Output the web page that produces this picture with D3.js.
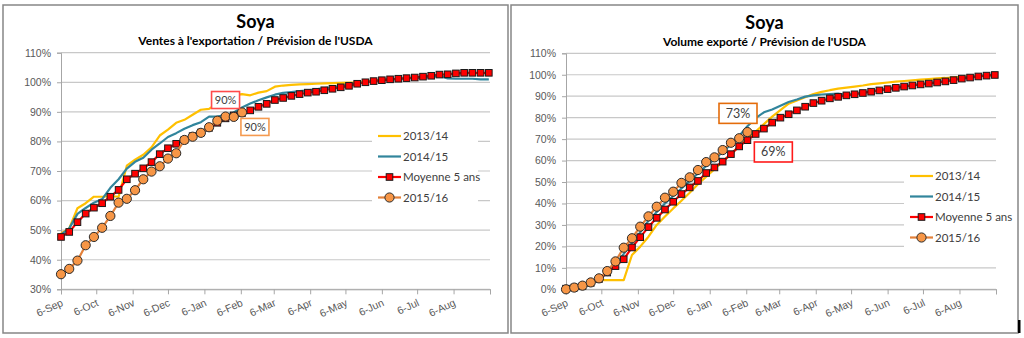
<!DOCTYPE html>
<html>
<head>
<meta charset="utf-8">
<script src="https://cdn.jsdelivr.net/npm/d3@7"></script>
<style>
  body { margin: 0; background: #fff; }
  svg { display: block; font-family: Lato, "Open Sans", sans-serif; }
</style>
</head>
<body>
<svg id="chart" width="1024" height="338"></svg>
<script>
// weekly points, 6-Sep start
var startDate = new Date(2014, 8, 6);
var endDate = new Date(2015, 8, 6);
var tickLabels = ["6-Sep","6-Oct","6-Nov","6-Dec","6-Jan","6-Feb","6-Mar","6-Apr","6-May","6-Jun","6-Jul","6-Aug"];
var seriesNames = ["2013/14", "2014/15", "Moyenne 5 ans", "2015/16"];

// left: Ventes à l'exportation (%)
var ventes1314 = [48.9,50.6,57.4,59.1,61.3,61.3,61.5,61.3,71.8,73.8,75.5,78.0,82.0,84.0,86.3,87.3,89.0,90.7,91.0,92.9,94.0,95.5,96.0,95.6,96.5,97.0,98.5,98.9,99.1,99.3,99.4,99.5,99.6,99.7,99.8,99.9,100.0,100.3,100.6,100.8,101.0,101.2,101.4,101.6,101.9,102.2,102.6,102.7,102.9,103.1,103.1,103.1,103.1];
var ventes1415 = [48.5,50.6,55.5,57.5,59.3,60.5,64.3,67.2,70.8,73.1,74.5,77.2,79.3,81.5,82.8,84.3,85.5,86.5,88.4,88.4,89.0,89.8,91.5,92.8,93.9,94.9,95.8,96.4,96.7,97.0,97.3,97.6,98.0,98.3,98.7,99.2,99.6,100.0,100.4,100.7,100.9,101.1,101.3,101.5,101.6,101.8,102.1,101.3,101.2,101.2,101.2,101.0,101.0];
var ventesMoy = [47.7,49.4,52.7,55.6,57.6,59.1,61.3,63.6,67.2,69.1,70.9,73.0,75.7,77.7,79.2,80.5,81.8,83.0,84.6,86.3,87.8,88.8,89.6,90.5,91.7,92.7,94.0,94.7,95.4,96.0,96.5,96.8,97.3,97.8,98.3,98.8,99.5,100.0,100.4,100.7,101.0,101.2,101.4,101.6,101.9,102.2,102.6,102.7,103.0,103.2,103.2,103.2,103.2];
var ventes1516 = [35.1,36.9,39.7,44.9,47.7,50.8,54.8,59.3,60.6,63.5,67.2,69.8,71.6,74.2,76.0,80.5,81.6,82.9,84.8,87.0,88.4,88.3,89.8];

// right: Volume exporté (%)
var volume1314 = [0.0,0.7,1.5,3.0,4.3,4.3,4.3,4.3,16.0,19.9,24.5,30.0,33.9,37.7,41.3,45.0,49.0,52.5,56.0,59.5,63.0,66.8,70.0,73.5,77.0,80.5,83.5,86.5,88.0,89.5,91.0,92.0,92.8,93.5,94.0,94.5,95.0,95.6,96.0,96.4,96.8,97.1,97.4,97.7,98.0,98.3,98.5,98.8,99.0,99.2,99.4,99.6,99.8];
var volume1415 = [0.0,0.5,1.2,2.8,4.8,7.5,11.5,16.5,21.5,26.5,32.0,36.0,40.0,43.5,47.0,50.5,54.0,57.5,60.5,64.0,67.5,71.5,76.0,79.8,82.5,83.8,85.5,87.3,88.5,89.8,90.4,90.8,91.0,91.2,90.6,91.1,91.7,92.3,92.9,93.5,94.1,94.7,95.2,95.7,96.1,96.6,97.1,97.7,98.4,98.9,99.4,99.8,100.1];
var volumeMoy = [0.3,0.8,1.5,3.0,4.8,7.8,10.8,14.0,19.5,24.3,29.0,33.3,37.2,40.8,44.4,47.5,50.5,54.2,56.8,59.5,63.0,66.6,69.5,72.4,74.9,77.7,80.0,81.6,83.4,85.1,86.8,87.9,89.0,89.7,90.4,90.9,91.5,92.1,92.7,93.3,93.9,94.5,95.0,95.5,95.9,96.4,96.9,97.5,98.2,98.7,99.2,99.6,99.9];
var volume1516 = [0.0,0.8,1.7,3.2,5.1,8.5,13.0,19.4,23.8,29.2,34.0,38.5,42.7,45.5,49.6,52.2,55.6,59.3,61.5,64.9,68.3,70.4,73.3];

// callout boxes: week index and level (%) of box centre
var ventesNotes = [{text: "90%", week: 20, level: 94, color: "#ff4b4b"}, {text: "90%", week: 23.6, level: 84.9, color: "#f59a4f"}];
var volumeNotes = [{text: "73%", week: 20.9, level: 82, color: "#e46c0a"}, {text: "69%", week: 25.2, level: 64, color: "#ff1a1a"}];

var colors = ["#ffc000", "#31859c", "#ff0000", "#e3813a"];

var svg = d3.select("#chart");
var weeks = ventesMoy.map((d, i) => d3.timeDay.offset(startDate, 7 * i));

function drawPanel(cfg) {
	var g = svg.append("g");
	g.append("rect")
		.attr("x", cfg.frame[0]).attr("y", cfg.frame[1])
		.attr("width", cfg.frame[2]).attr("height", cfg.frame[3])
		.attr("fill", "#fff").attr("stroke", "#868686").attr("stroke-width", 1.5);

	var x = d3.scaleTime().domain([startDate, endDate]).range([cfg.left, cfg.right]);
	var y = d3.scaleLinear().domain(cfg.yDomain).range([cfg.bottom, cfg.top]);
	var yTicks = d3.range(cfg.yDomain[0], cfg.yDomain[1] + 0.1, 10);

	// gridlines
	g.selectAll("line.grid").data(yTicks).enter().append("line")
		.attr("x1", cfg.left).attr("x2", cfg.right)
		.attr("y1", d => y(d)).attr("y2", d => y(d))
		.attr("stroke", "#c8c8c8").attr("stroke-width", 1.2);

	// y axis
	var yAxis = g.append("g")
		.attr("transform", "translate(" + cfg.left + ",0)")
		.call(d3.axisLeft(y).tickValues(yTicks).tickSize(4).tickPadding(6).tickFormat(d => d + "%"));
	yAxis.select(".domain").attr("stroke", "#a6a6a6");
	yAxis.selectAll(".tick line").attr("stroke", "#a6a6a6");
	yAxis.selectAll("text").attr("fill", "#595959").style("font-size", "10.5px");

	// x axis: the 6th of every month
	var monthTicks = d3.timeMonth.range(d3.timeMonth.floor(startDate), endDate)
		.map(d => d3.timeDay.offset(d, 5))
		.slice(0, tickLabels.length);
	var xAxis = g.append("g")
		.attr("transform", "translate(0," + cfg.bottom + ")")
		.call(d3.axisBottom(x).tickValues(monthTicks.concat([endDate])).tickSize(5)
			.tickFormat((d, i) => tickLabels[i] || ""));
	xAxis.select(".domain").attr("stroke", "#a6a6a6");
	xAxis.selectAll(".tick line").attr("stroke", "#a6a6a6");
	xAxis.selectAll("text")
		.attr("fill", "#595959").style("font-size", "10.5px")
		.attr("text-anchor", "end")
		.attr("dy", "0.3em").attr("y", 0)
		.attr("transform", "translate(1,13) rotate(-25)");

	// titles
	var cx = (cfg.frame[0] * 2 + cfg.frame[2]) / 2;
	g.append("text").attr("x", cx).attr("y", cfg.titleY)
		.attr("text-anchor", "middle").style("font-size", "18px").style("font-weight", "bold")
		.attr("fill", "#000").text("Soya");
	g.append("text").attr("x", cx).attr("y", cfg.titleY + 17)
		.attr("text-anchor", "middle").style("font-size", "12px").style("font-weight", "bold")
		.attr("fill", "#000").text(cfg.subtitle);

	var line = d3.line().x((d, i) => x(weeks[i])).y(d => y(d));

	cfg.series.forEach(function(s, k) {
		g.append("path").datum(s)
			.attr("d", line).attr("fill", "none")
			.attr("stroke", colors[k]).attr("stroke-width", 2.2)
			.attr("stroke-linejoin", "round");
		if (k == 2) {
			g.selectAll("rect.sq" + k).data(s).enter().append("rect")
				.attr("x", (d, i) => x(weeks[i]) - 3.3).attr("y", d => y(d) - 3.3)
				.attr("width", 6.6).attr("height", 6.6)
				.attr("fill", "#ff0000").attr("stroke", "#1a1a1a").attr("stroke-width", 1);
		}
		if (k == 3) {
			g.selectAll("circle.c" + k).data(s).enter().append("circle")
				.attr("cx", (d, i) => x(weeks[i])).attr("cy", d => y(d)).attr("r", 4.6)
				.attr("fill", "#f79646").attr("stroke", "#2b2b2b").attr("stroke-width", 1);
		}
	});

	// legend
	var lg = g.append("g").attr("transform", "translate(" + cfg.legend[0] + "," + cfg.legend[1] + ")");
	lg.append("rect").attr("x", -6).attr("y", -11).attr("width", cfg.legend[2]).attr("height", 83).attr("fill", "#fff");
	seriesNames.forEach(function(name, k) {
		var ly = k * 20.5;
		lg.append("line").attr("x1", 0).attr("x2", 23).attr("y1", ly).attr("y2", ly)
			.attr("stroke", colors[k]).attr("stroke-width", 2.2);
		if (k == 2) {
			lg.append("rect").attr("x", 8.2).attr("y", ly - 3.3).attr("width", 6.6).attr("height", 6.6)
				.attr("fill", "#ff0000").attr("stroke", "#1a1a1a");
		}
		if (k == 3) {
			lg.append("circle").attr("cx", 11.5).attr("cy", ly).attr("r", 4.6)
				.attr("fill", "#f79646").attr("stroke", "#2b2b2b");
		}
		lg.append("text").attr("x", 25).attr("y", ly).attr("dy", "0.35em")
			.attr("fill", "#404040").style("font-size", "11.5px").text(name);
	});

	// callouts
	cfg.notes.forEach(function(n) {
		var wx = x(d3.timeDay.offset(startDate, 7 * n.week));
		var wy = y(n.level);
		g.append("rect").attr("x", wx - cfg.boxW / 2).attr("y", wy - cfg.boxH / 2)
			.attr("width", cfg.boxW).attr("height", cfg.boxH)
			.attr("fill", "#fff").attr("stroke", n.color).attr("stroke-width", 1.6);
		g.append("text").attr("x", wx).attr("y", wy).attr("dy", "0.36em")
			.attr("text-anchor", "middle").attr("fill", "#404040")
			.style("font-size", cfg.boxFont).text(n.text);
	});
}

drawPanel({
	frame: [3, 5, 505, 328], left: 61, right: 490, top: 52.7, bottom: 289.3,
	yDomain: [30, 110], titleY: 28,
	subtitle: "Ventes à l'exportation / Prévision de l'USDA",
	series: [ventes1314, ventes1415, ventesMoy, ventes1516],
	legend: [378, 136, 106], notes: ventesNotes, boxW: 28, boxH: 17, boxFont: "11px"
});

drawPanel({
	frame: [511, 5, 507, 328], left: 566, right: 996, top: 53.3, bottom: 289.3,
	yDomain: [0, 110], titleY: 29,
	subtitle: "Volume exporté / Prévision de l'USDA",
	series: [volume1314, volume1415, volumeMoy, volume1516],
	legend: [910, 176, 100], notes: volumeNotes, boxW: 38, boxH: 20, boxFont: "12.5px"
});

svg.append("rect").attr("x", 1018).attr("y", 320).attr("width", 2.5).attr("height", 13).attr("fill", "#000");
</script>
</body>
</html>
